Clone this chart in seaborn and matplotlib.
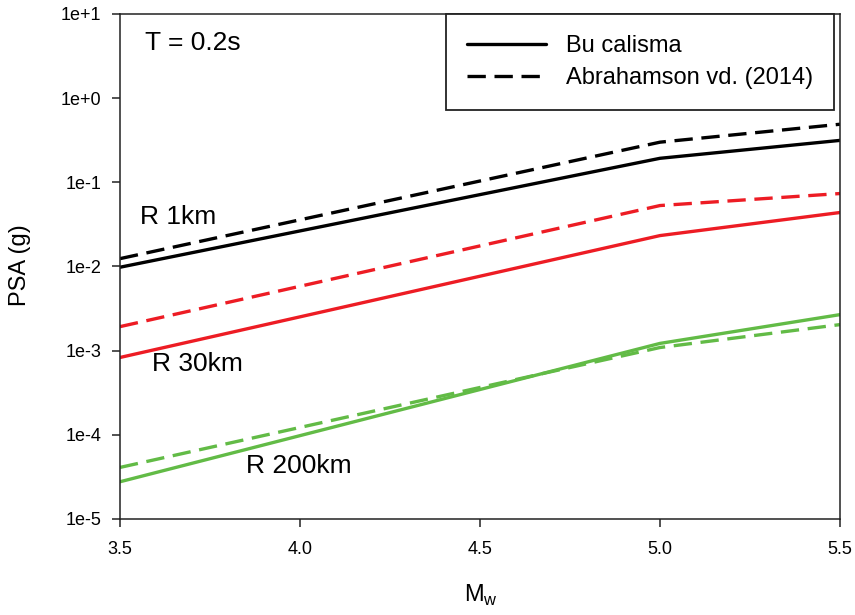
import matplotlib
matplotlib.use("Agg")
import matplotlib.pyplot as plt
import seaborn as sns
import numpy as np
import pandas as pd
from matplotlib.lines import Line2D

sns.set_theme(style="ticks")
plt.rcParams['font.family'] = ['Liberation Sans', 'DejaVu Sans']
plt.rcParams['text.color'] = 'black'
plt.rcParams['xtick.color'] = 'black'
plt.rcParams['ytick.color'] = 'black'

# Data
mw = [3.5, 5.0, 5.5]
r1_this = [0.0098, 0.193, 0.315]
r1_ask = [0.0124, 0.30, 0.49]
r30_this = [0.00083, 0.0233, 0.0438]
r30_ask = [0.00193, 0.053, 0.0736]
r200_this = [2.77e-5, 1.22e-3, 2.68e-3]
r200_ask = [4.1e-5, 1.09e-3, 2.04e-3]

x_ticks = [3.5, 4.0, 4.5, 5.0, 5.5]
x_ticklabels = ["3.5", "4.0", "4.5", "5.0", "5.5"]
y_ticks = [1e-5, 1e-4, 1e-3, 1e-2, 1e-1, 1e0, 1e1]
y_ticklabels = ["1e-5", "1e-4", "1e-3", "1e-2", "1e-1", "1e+0", "1e+1"]

legend_labels = ["Bu calisma", "Abrahamson vd. (2014)"]

RED = "#ED1C24"
GREEN = "#62BB46"
BLACK = "#000000"
DASH = (0, (5.5, 2.6))
LW = 2.4

fig = plt.figure(figsize=(8.55, 6.15), dpi=100)
ax = fig.add_axes([120/855, 1-519/615, 720/855, 505/615])

series = [
    (r1_this, BLACK, "-"), (r1_ask, BLACK, DASH),
    (r30_this, RED, "-"), (r30_ask, RED, DASH),
    (r200_this, GREEN, "-"), (r200_ask, GREEN, DASH),
]
for vals, col, ls in series:
    df = pd.DataFrame({"Mw": mw, "PSA": vals})
    sns.lineplot(data=df, x="Mw", y="PSA", color=col, linestyle=ls, linewidth=LW, ax=ax)

ax.set_yscale("log")
ax.set_xlim(3.5, 5.5)
ax.set_ylim(1e-5, 1e1)
ax.set_xticks(x_ticks)
ax.set_xticklabels(x_ticklabels, fontsize=13)
ax.set_yticks(y_ticks)
ax.set_yticklabels(y_ticklabels, fontsize=13)
ax.yaxis.set_minor_locator(matplotlib.ticker.NullLocator())
ax.tick_params(axis="both", which="major", direction="out", length=5.5, width=1.1,
               color="#222222", labelsize=13, labelcolor="black")
ax.tick_params(axis="y", pad=8)
ax.tick_params(axis="x", pad=10)
for s in ax.spines.values():
    s.set_visible(True)
    s.set_linewidth(1.1)
    s.set_color("#222222")
ax.set_xlabel("")
ax.set_ylabel("")

fig.text(20/855, 1-265/615, "PSA (g)", rotation=90, ha="center", va="center", fontsize=17)
fig.text(481/855, 1-595/615, r"M$_\mathregular{w}$", ha="center", va="center", fontsize=17)

ax.text(0.0347, 0.9426, "T = 0.2s", transform=ax.transAxes, ha="left", va="center", fontsize=19)
ax.text(3.556, 0.0384, "R 1km", ha="left", va="center", fontsize=19)
ax.text(3.589, 7.0e-4, "R 30km", ha="left", va="center", fontsize=19)
ax.text(3.85, 4.28e-5, "R 200km", ha="left", va="center", fontsize=19)

handles = [Line2D([0], [0], color=BLACK, lw=LW, linestyle="-"),
           Line2D([0], [0], color=BLACK, lw=LW, linestyle=DASH)]
leg = ax.legend(handles, legend_labels, loc="upper right", bbox_to_anchor=((834-120)/720, 1.0),
                borderaxespad=0, fontsize=17, handlelength=3.35, handletextpad=0.85,
                labelspacing=0.45, borderpad=0.88, frameon=True, fancybox=False)
leg.get_frame().set_edgecolor("#222222")
leg.get_frame().set_linewidth(1.3)
leg.get_frame().set_alpha(1)

fig.savefig("out.png", dpi=100)
